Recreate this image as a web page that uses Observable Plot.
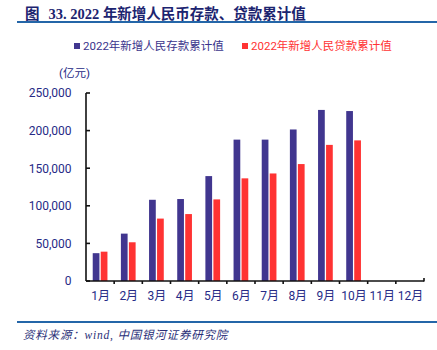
<!DOCTYPE html>
<html>
<head>
<meta charset="utf-8">
<script src="https://cdn.jsdelivr.net/npm/d3@7"></script>
<script src="https://cdn.jsdelivr.net/npm/@observablehq/plot@0.6"></script>
<style>
  html, body { margin: 0; padding: 0; background: #fff; }
  #wrap { position: relative; width: 437px; height: 350px; overflow: hidden; font-family: Roboto, "Noto Sans CJK SC", sans-serif; }
  #title { position: absolute; left: 25px; top: 2px; font-family: "Liberation Serif", "Noto Sans CJK SC", serif; font-weight: bold; font-size: 14.5px; color: #1c2470; white-space: nowrap; }
  #title .fig { margin-right: 9px; }
  .hline { position: absolute; left: 17px; width: 420px; height: 2px; background: #2466a8; }
  #legend { position: absolute; top: 38px; left: 0; width: 437px; font-size: 11.5px; white-space: nowrap; }
  .li { position: absolute; top: 0; line-height: 16px; }
  .sw { display: inline-block; width: 6px; height: 6px; margin-right: 3px; vertical-align: 1px; }
  #unit { position: absolute; left: 59px; top: 64px; font-size: 11.5px; color: #262a86; }
  #foot { position: absolute; left: 23px; top: 326px; font-family: "Liberation Serif", "Noto Sans CJK SC", serif; font-style: italic; font-size: 11.5px; letter-spacing: 0.8px; color: #2a2f78; white-space: nowrap; }
  #chart { position: absolute; left: 0; top: 0; }
</style>
</head>
<body>
<div id="wrap">
  <div id="chart"></div>
  <div id="title"><span class="fig">图</span>33. 2022 年新增人民币存款、贷款累计值</div>
  <div class="hline" style="top:21px"></div>
  <div id="legend"></div>
  <div id="unit">(亿元)</div>
  <div class="hline" style="top:321px"></div>
  <div id="foot">资料来源：wind, 中国银河证券研究院</div>
</div>
<script>
const months = ["1月","2月","3月","4月","5月","6月","7月","8月","9月","10月","11月","12月"];
const seriesNames = ["2022年新增人民存款累计值", "2022年新增人民贷款累计值"];
const seriesColors = ["#41368f", "#ff3333"];
const deposits = [37000, 63000, 108000, 109000, 139500, 188000, 188000, 201500, 227500, 226000];
const loans = [39000, 51500, 83000, 89000, 108500, 136500, 143000, 155500, 181000, 187000];
const yTicks = [0, 50000, 100000, 150000, 200000, 250000];

const rows = [];
deposits.forEach((v, i) => rows.push({month: months[i], series: seriesNames[0], value: v}));
loans.forEach((v, i) => rows.push({month: months[i], series: seriesNames[1], value: v}));

// legend
const legend = document.getElementById("legend");
const legendX = [74, 242];
seriesNames.forEach((s, i) => {
  const d = document.createElement("div");
  d.className = "li";
  d.style.left = legendX[i] + "px";
  d.style.color = i === 0 ? "#3a348c" : seriesColors[1];
  d.innerHTML = `<span class="sw" style="background:${seriesColors[i]}"></span>${s}`;
  legend.appendChild(d);
});

const labelColor = "#262a86";
const chart = Plot.plot({
  width: 437,
  height: 310,
  marginTop: 93,
  marginBottom: 29,
  marginLeft: 86,
  marginRight: 13,
  style: {fontFamily: 'Roboto, "Noto Sans CJK SC", sans-serif', fontSize: "12px", color: labelColor, background: "transparent"},
  fx: {domain: months, padding: 0, axis: null, round: false, label: null},
  x: {domain: seriesNames, paddingInner: 0.16, paddingOuter: 0.84, round: false, axis: null, label: null},
  y: {domain: [0, 250000], axis: null, label: null},
  color: {domain: seriesNames, range: seriesColors},
  marks: [
    Plot.barY(rows, {fx: "month", x: "series", y: "value", fill: "series"}),
    Plot.axisY({ticks: yTicks, tickSize: 0, tickPadding: 15, tickFormat: d3.format(","), fill: labelColor, fontSize: 12, label: null}),
    Plot.axisFx({anchor: "bottom", tickSize: 0, tickPadding: 10, fill: labelColor, fontSize: 12, label: null})
  ]
});
document.getElementById("chart").appendChild(chart);

// axis lines and inward ticks, from the plot's scales
const fx = chart.scale("fx");
const y = chart.scale("y");
const x0 = fx.apply(months[0]);
const x1 = fx.apply(months[months.length - 1]) + fx.bandwidth;
const y0 = y.apply(0);
const yTop = y.apply(yTicks[yTicks.length - 1]);
const g = d3.select(chart).append("g").attr("stroke", "#111").attr("stroke-width", 1.6).attr("fill", "none");
g.append("line").attr("x1", x0).attr("x2", x0).attr("y1", yTop).attr("y2", y0);
g.append("line").attr("x1", x0).attr("x2", x1).attr("y1", y0).attr("y2", y0);
yTicks.forEach(t => {
  g.append("line").attr("x1", x0).attr("x2", x0 + 4).attr("y1", y.apply(t)).attr("y2", y.apply(t));
});
months.forEach((m, i) => {
  const bx = fx.apply(m);
  if (i > 0) g.append("line").attr("x1", bx).attr("x2", bx).attr("y1", y0).attr("y2", y0 + 3);
});
g.append("line").attr("x1", x1).attr("x2", x1).attr("y1", y0 - 3).attr("y2", y0 + 0.5);
</script>
</body>
</html>
